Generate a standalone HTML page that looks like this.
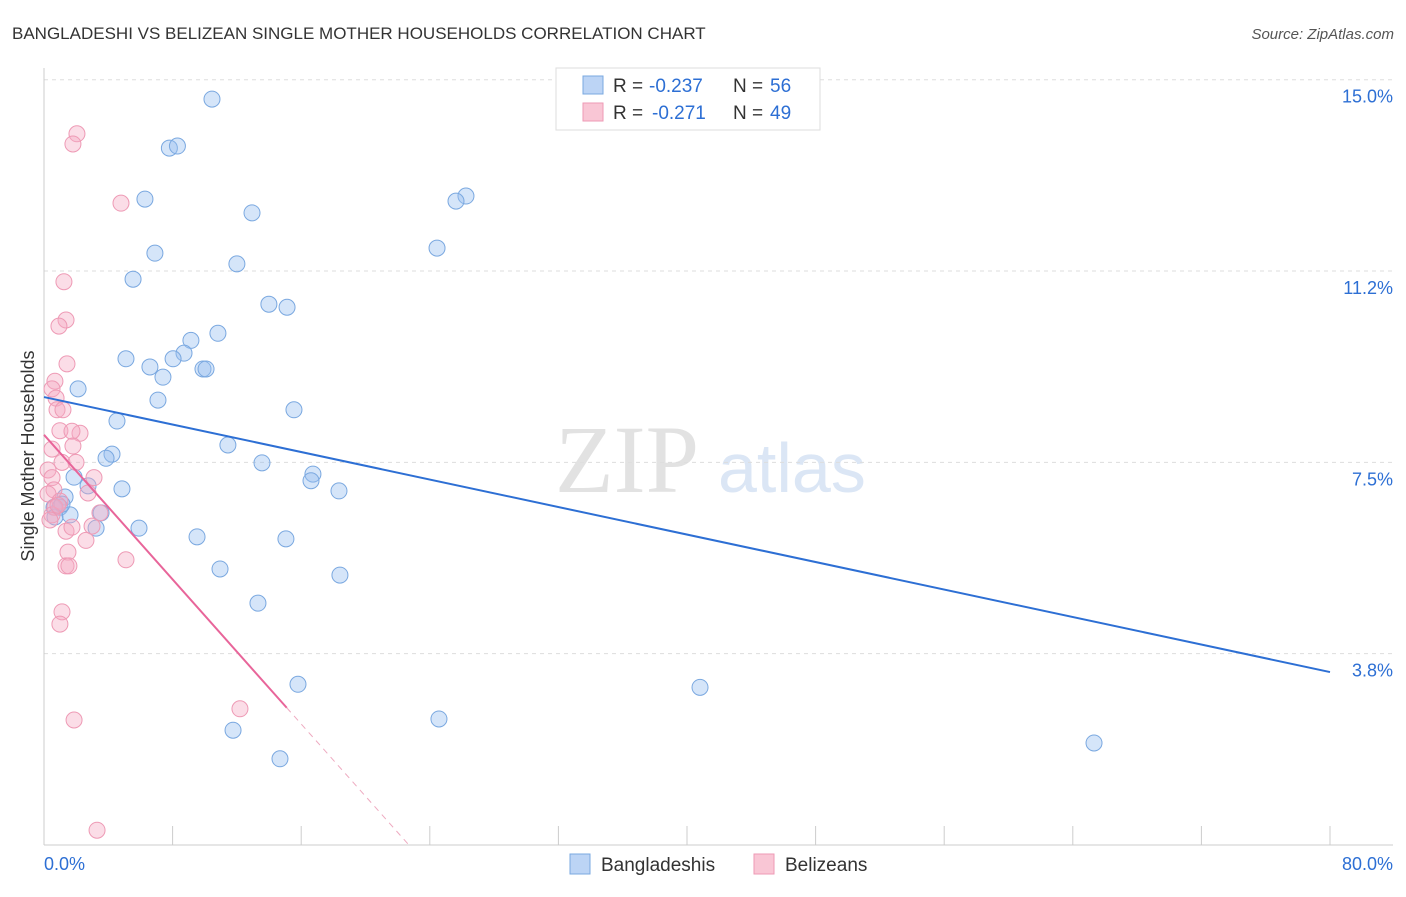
<!DOCTYPE html>
<html><head><meta charset="utf-8">
<style>
body{margin:0;background:#fff;font-family:"Liberation Sans",sans-serif;}
</style></head>
<body>
<svg id="chart" width="1406" height="892" xmlns="http://www.w3.org/2000/svg" font-family="Liberation Sans, sans-serif">
<text x="12" y="39" font-size="17" fill="#333">BANGLADESHI VS BELIZEAN SINGLE MOTHER HOUSEHOLDS CORRELATION CHART</text>
<text x="1394" y="39" font-size="15" fill="#555" text-anchor="end" font-style="italic">Source: ZipAtlas.com</text>
<text x="555" y="492" font-size="96" fill="#e2e2e2" font-family="Liberation Serif, serif">ZIP</text>
<text x="718" y="492" font-size="70" fill="#dbe6f5">atlas</text>
<g id="grid"></g>
<g id="axes"></g>
<g id="marks"></g>
<g>
<rect x="556" y="68" width="264" height="62" fill="#fff" stroke="#ddd"/>
<rect x="583" y="76" width="20" height="18" fill="#bcd4f5" stroke="#7aa8e0"/>
<text x="613" y="92" font-size="19" fill="#333">R =</text>
<text x="649" y="92" font-size="19" fill="#2d6fd4">-0.237</text>
<text x="733" y="92" font-size="19" fill="#333">N =</text>
<text x="770" y="92" font-size="19" fill="#2d6fd4">56</text>
<rect x="583" y="103" width="20" height="18" fill="#f9c6d5" stroke="#ee9ab5"/>
<text x="613" y="119" font-size="19" fill="#333">R =</text>
<text x="652" y="119" font-size="19" fill="#2d6fd4">-0.271</text>
<text x="733" y="119" font-size="19" fill="#333">N =</text>
<text x="770" y="119" font-size="19" fill="#2d6fd4">49</text>
</g>
<g>
<rect x="570" y="854" width="20" height="20" fill="#bcd4f5" stroke="#7aa8e0"/>
<text x="601" y="871" font-size="19" fill="#333">Bangladeshis</text>
<rect x="754" y="854" width="20" height="20" fill="#f9c6d5" stroke="#ee9ab5"/>
<text x="785" y="871" font-size="19" fill="#333">Belizeans</text>
</g>
<text transform="translate(34,456) rotate(-90)" font-size="18" fill="#333" text-anchor="middle">Single Mother Households</text>
</svg>
<script>
const yTicks=[3.75,7.5,11.25,15];
const yTickLabels=["3.8%","7.5%","11.2%","15.0%"];
const xTicks=[0,8,16,24,32,40,48,56,64,72,80];
const blueX=[10.45,7.8,8.3,6.28,12.94,6.9,12.0,5.54,26.25,25.63,24.45,13.99,15.12,10.82,9.14,8.71,8.03,5.1,6.59,7.4,9.89,10.08,2.12,7.09,15.55,4.54,11.44,4.23,3.86,13.56,16.73,16.61,18.35,2.74,4.85,1.87,1.31,0.62,0.99,1.62,3.55,3.24,5.91,9.52,15.05,10.95,18.41,13.31,15.8,40.81,24.57,11.76,14.68,65.32,0.68,1.12];
const blueY=[14.62,13.66,13.7,12.66,12.39,11.6,11.39,11.09,12.72,12.62,11.7,10.6,10.54,10.03,9.89,9.64,9.53,9.53,9.37,9.17,9.33,9.33,8.94,8.72,8.53,8.31,7.84,7.66,7.58,7.49,7.27,7.14,6.94,7.04,6.98,7.21,6.82,6.62,6.62,6.47,6.51,6.21,6.21,6.04,6.0,5.41,5.29,4.74,3.15,3.09,2.47,2.25,1.69,2.0,6.43,6.68];
const pinkX=[2.05,1.8,4.79,1.24,1.37,0.93,1.43,0.68,0.5,0.75,0.81,1.18,0.99,2.24,1.74,0.5,1.8,1.12,1.99,0.25,0.5,3.11,0.62,0.25,2.74,0.99,0.68,3.48,2.99,1.37,1.74,2.61,1.49,1.37,1.55,5.1,1.12,0.99,1.87,12.19,3.3,0.5,0.37,0.87];
const pinkY=[13.94,13.74,12.58,11.04,10.29,10.17,9.43,9.09,8.94,8.76,8.53,8.53,8.12,8.07,8.11,7.76,7.82,7.5,7.5,7.35,7.2,7.2,6.96,6.88,6.9,6.74,6.62,6.51,6.25,6.15,6.23,5.97,5.74,5.47,5.47,5.59,4.57,4.33,2.45,2.67,0.29,6.47,6.37,6.66];
const blueLine=[[0,8.78],[80,3.39]];
const pinkSolid=[[0,8.04],[15.1,2.69]];
const pinkDash=[[15.1,2.69],[22.7,0]];
const NS="http://www.w3.org/2000/svg";
const sx=v=>44+v*16.075, sy=v=>845-v*51.02;
function mk(t,a,p){const e=document.createElementNS(NS,t);for(const k in a)e.setAttribute(k,a[k]);p.appendChild(e);return e;}
const grid=document.getElementById('grid'),axes=document.getElementById('axes'),marks=document.getElementById('marks');
yTicks.forEach((t,i)=>{
 const l=mk('line',{x1:44,x2:1393,y1:sy(t),y2:sy(t),stroke:'#ddd','stroke-dasharray':'4,4'},grid);
 
 
 const tx=mk('text',{x:1393,y:sy(t)+23,'font-size':18,fill:'#2d6fd4','text-anchor':'end'},axes);
 tx.textContent=yTickLabels[i];
 
 
});
const xa=mk('line',{x1:44,x2:1393,y1:845,y2:845,stroke:'#ccc'},axes);


const ya=mk('line',{x1:44,x2:44,y1:68,y2:845,stroke:'#ccc'},axes);


xTicks.forEach(t=>{
 const l=mk('line',{x1:sx(t),x2:sx(t),y1:826,y2:845,stroke:'#ccc'},axes);
 
 
});
const x0=mk('text',{x:44,y:870,'font-size':18,fill:'#2d6fd4'},axes);x0.textContent='0.0%';


const x1=mk('text',{x:1393,y:870,'font-size':18,fill:'#2d6fd4','text-anchor':'end'},axes);x1.textContent='80.0%';


blueX.forEach((v,i)=>{
 const c=mk('circle',{cx:sx(v),cy:sy(blueY[i]),r:8,fill:'rgba(150,190,240,0.4)',stroke:'#7aa8e0','stroke-width':1},marks);
 
 
});
pinkX.forEach((v,i)=>{
 const c=mk('circle',{cx:sx(v),cy:sy(pinkY[i]),r:8,fill:'rgba(245,170,195,0.4)',stroke:'#ee9ab5','stroke-width':1},marks);
 
 
});
const bl=mk('line',{x1:sx(blueLine[0][0]),y1:sy(blueLine[0][1]),x2:sx(blueLine[1][0]),y2:sy(blueLine[1][1]),stroke:'#2d6fd4','stroke-width':2},marks);


const pl=mk('line',{x1:sx(pinkSolid[0][0]),y1:sy(pinkSolid[0][1]),x2:sx(pinkSolid[1][0]),y2:sy(pinkSolid[1][1]),stroke:'#e8659a','stroke-width':2},marks);


const pd=mk('line',{x1:sx(pinkDash[0][0]),y1:sy(pinkDash[0][1]),x2:sx(pinkDash[1][0]),y2:sy(pinkDash[1][1]),stroke:'#eeaac0','stroke-width':1,'stroke-dasharray':'6,5'},marks);


</script>
</body></html>
